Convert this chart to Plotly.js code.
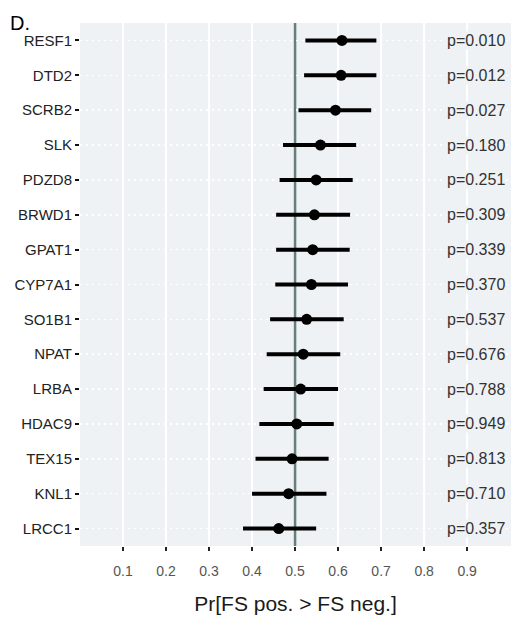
<!DOCTYPE html>
<html>
<head>
<meta charset="utf-8">
<script src="https://cdn.plot.ly/plotly-3.0.1.min.js"></script>
<style>html,body{margin:0;padding:0;background:#fff;}#chart{width:514px;height:624px;}</style>
</head>
<body>
<div id="chart"></div>
<script>
var genes = ["RESF1","DTD2","SCRB2","SLK","PDZD8","BRWD1","GPAT1","CYP7A1","SO1B1","NPAT","LRBA","HDAC9","TEX15","KNL1","LRCC1"];
var estimate = [0.609,0.607,0.594,0.559,0.549,0.545,0.541,0.538,0.527,0.519,0.513,0.504,0.493,0.485,0.462];
var lower = [0.524,0.521,0.508,0.472,0.464,0.456,0.456,0.454,0.442,0.434,0.427,0.417,0.408,0.400,0.379];
var upper = [0.689,0.689,0.677,0.642,0.634,0.628,0.627,0.623,0.613,0.605,0.600,0.590,0.578,0.573,0.549];
var pvalues = ["p=0.010","p=0.012","p=0.027","p=0.180","p=0.251","p=0.309","p=0.339","p=0.370","p=0.537","p=0.676","p=0.788","p=0.949","p=0.813","p=0.710","p=0.357"];
var xTicks = [0.1,0.2,0.3,0.4,0.5,0.6,0.7,0.8,0.9];
var panelTitle = "D.";
var xTitle = "Pr[FS pos. > FS neg.]";
var refValue = 0.5;
var pLabelX = 0.852;

var panelBg = "#eef2f4";
var font = "Liberation Sans, Arial, sans-serif";

var trace = {
  type: "scatter",
  mode: "markers",
  x: estimate,
  y: genes,
  marker: {color: "#000000", size: 11},
  error_x: {
    type: "data",
    symmetric: false,
    array: estimate.map(function(v,i){return upper[i]-v;}),
    arrayminus: estimate.map(function(v,i){return v-lower[i];}),
    color: "#000000",
    thickness: 4,
    width: 0
  },
  hoverinfo: "skip",
  showlegend: false
};

var annotations = genes.map(function(g,i){
  return {x: pLabelX, y: g, xref: "x", yref: "y", text: pvalues[i], showarrow: false,
    xanchor: "left", yanchor: "middle", font: {family: font, size: 16, color: "#333333"},
    bgcolor: panelBg, borderpad: 0};
});
annotations.push({x: 0, y: 1, xref: "paper", yref: "paper", xanchor: "left", yanchor: "top",
  xshift: -72, yshift: 13, text: panelTitle, showarrow: false,
  font: {family: font, size: 20, color: "#000000"}});

// vertical white gridlines drawn as shapes so the reference line can sit on top of them
var shapes = xTicks.map(function(v){
  return {type: "line", xref: "x", yref: "paper", x0: v, x1: v, y0: 0, y1: 1,
    line: {color: "#ffffff", width: 2}, layer: "below"};
});
shapes.push({type: "line", xref: "x", yref: "paper", x0: refValue, x1: refValue, y0: 0, y1: 1,
  line: {color: "#667f7a", width: 2.5}, layer: "below"});

var layout = {
  width: 514, height: 624,
  margin: {l: 80, r: 3, t: 23, b: 78},
  paper_bgcolor: "#ffffff",
  plot_bgcolor: panelBg,
  font: {family: font},
  xaxis: {
    range: [0, 1.002],
    tickvals: xTicks,
    ticktext: xTicks.map(function(v){return v.toFixed(1);}),
    ticks: "outside", ticklen: 4, tickwidth: 2, tickcolor: "#222222",
    ticklabelstandoff: 8,
    tickfont: {family: font, size: 14, color: "#555555"},
    showgrid: false,
    zeroline: false, showline: false,
    title: {text: xTitle, font: {family: font, size: 21, color: "#1a1a1a"}, standoff: 18}
  },
  yaxis: {
    type: "category",
    categoryorder: "array",
    categoryarray: genes.slice().reverse(),
    range: [-0.5, 14.5],
    ticks: "outside", ticklen: 4, tickwidth: 2, tickcolor: "#111111",
    tickfont: {family: font, size: 15, color: "#222222"},
    showgrid: true, gridcolor: "#ffffff", gridwidth: 1.5, griddash: "2px,4px",
    zeroline: false, showline: false
  },
  shapes: shapes,
  annotations: annotations
};

Plotly.newPlot("chart", [trace], layout, {staticPlot: true, displayModeBar: false});
</script>
</body>
</html>
